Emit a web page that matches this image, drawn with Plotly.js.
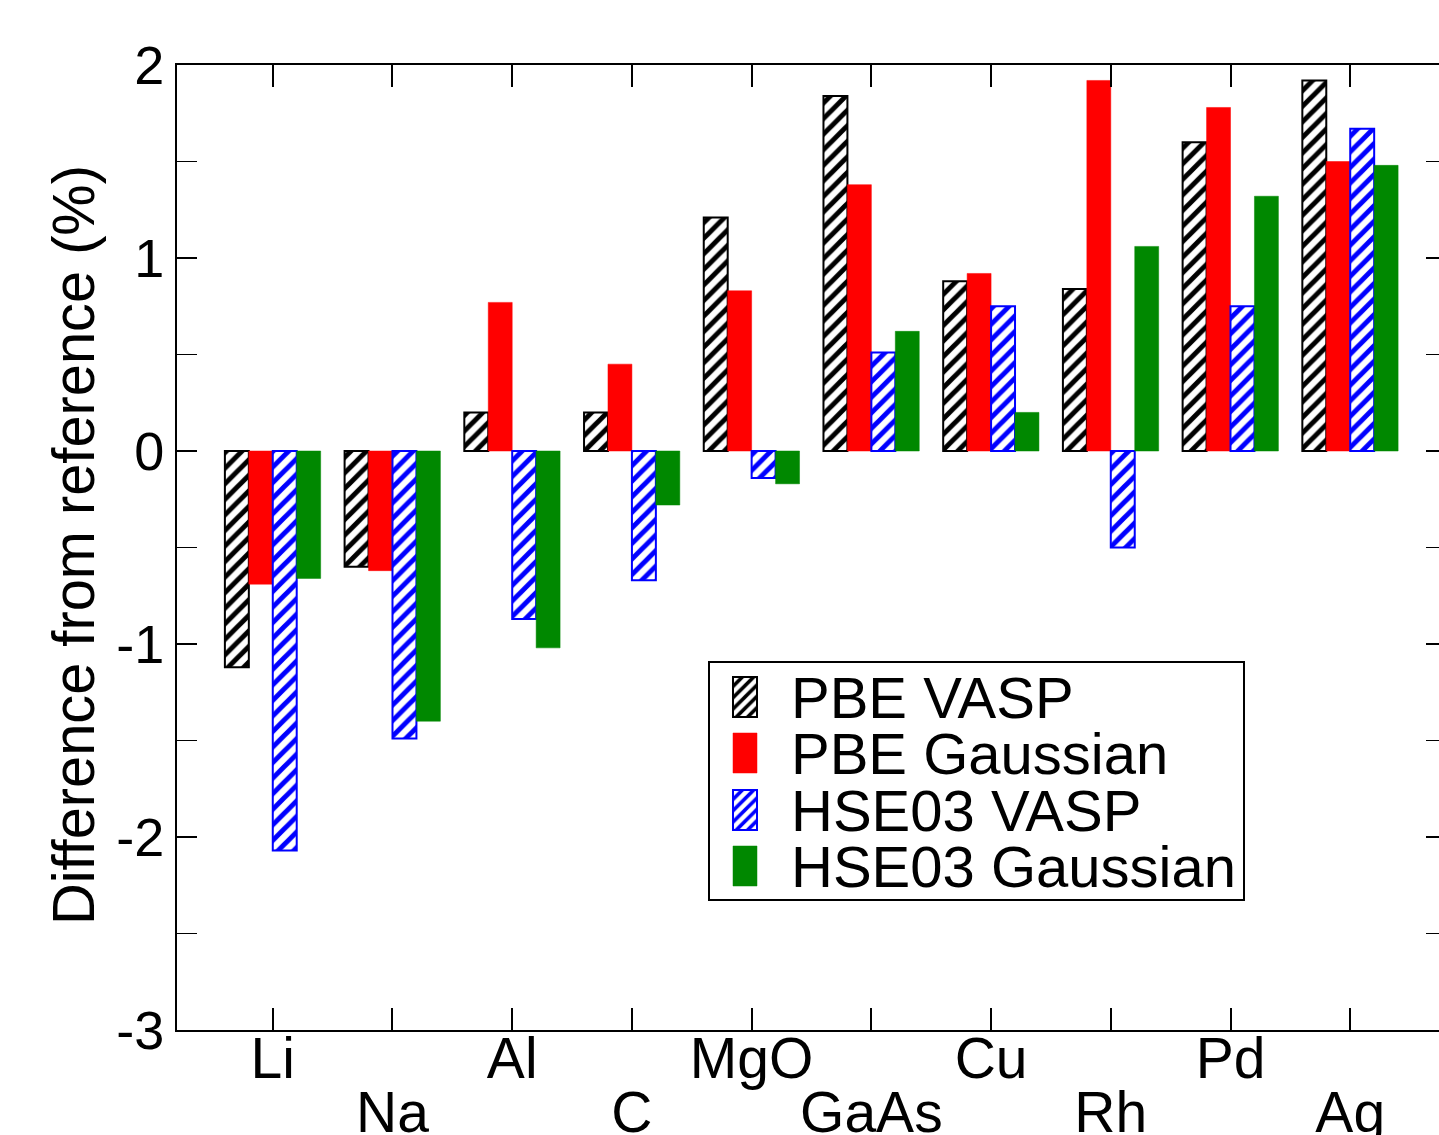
<!DOCTYPE html>
<html>
<head>
<meta charset="utf-8">
<script src="https://cdn.plot.ly/plotly-3.0.1.min.js"></script>
<style>
html,body{margin:0;padding:0;overflow:hidden;background:#fff;}
#chart{width:1450px;height:1135px;}
</style>
</head>
<body>
<div id="chart"></div>
<script>
const categories = ['Li','Na','Al','C','MgO','GaAs','Cu','Rh','Pd','Ag'];
const pbeVasp     = [-1.12,-0.60, 0.20, 0.20, 1.21, 1.84, 0.88, 0.84, 1.60, 1.92];
const pbeGaussian = [-0.69,-0.62, 0.77, 0.45, 0.83, 1.38, 0.92, 1.92, 1.78, 1.50];
const hseVasp     = [-2.07,-1.49,-0.87,-0.67,-0.14, 0.51, 0.75,-0.50, 0.75, 1.67];
const hseGaussian = [-0.66,-1.40,-1.02,-0.28,-0.17, 0.62, 0.20, 1.06, 1.32, 1.48];
const seriesNames = ['PBE VASP','PBE Gaussian','HSE03 VASP','HSE03 Gaussian'];
const yTickVals = [-3,-2,-1,0,1,2];
const yTickText = ['-3','-2','-1','0','1','2'];

const rowOne = categories.map((c,i)=> i%2===0 ? c : '');
const rowTwo = categories.map((c,i)=> i%2===1 ? c : '');

const font = 'Liberation Sans, Arial, Helvetica, sans-serif';

const traces = [
  {type:'bar', name:seriesNames[0], x:categories, y:pbeVasp,
   marker:{color:'white', line:{color:'black', width:2},
     pattern:{shape:'/', fgcolor:'black', bgcolor:'white', size:11, solidity:0.45}}},
  {type:'bar', name:seriesNames[1], x:categories, y:pbeGaussian,
   marker:{color:'#ff0000', line:{color:'#ff0000', width:0.5}}},
  {type:'bar', name:seriesNames[2], x:categories, y:hseVasp,
   marker:{color:'white', line:{color:'#0000ff', width:2},
     pattern:{shape:'/', fgcolor:'#0000ff', bgcolor:'white', size:11, solidity:0.45}}},
  {type:'bar', name:seriesNames[3], x:categories, y:hseGaussian,
   marker:{color:'#008800', line:{color:'#008800', width:0.5}}},
  {type:'scatter', x:[], y:[], xaxis:'x2', showlegend:false, hoverinfo:'skip'}
];

const layout = {
  width:1450, height:1135,
  margin:{l:177, r:4, t:65, b:105},
  paper_bgcolor:'white', plot_bgcolor:'white',
  font:{family:font, color:'black', size:54},
  barmode:'group', bargap:0.2, bargroupgap:0,
  showlegend:true,
  legend:{x:0.419, y:0.381, xanchor:'left', yanchor:'top',
    bgcolor:'white', bordercolor:'black', borderwidth:2,
    font:{family:font, size:58, color:'black'}},
  xaxis:{type:'category', categoryarray:categories, range:[-0.8, 9.8],
    tickvals:categories, ticktext:rowOne, ticklabelstandoff:-22,
    ticks:'inside', ticklen:22, tickwidth:2, tickcolor:'black',
    showline:true, linecolor:'black', linewidth:2, mirror:'allticks',
    showgrid:false, zeroline:false, fixedrange:true,
    tickfont:{family:font, size:57}},
  xaxis2:{type:'category', categoryarray:categories, range:[-0.8, 9.8],
    overlaying:'x', side:'bottom', anchor:'y',
    tickvals:categories, ticktext:rowTwo, ticks:'', ticklabelstandoff:44,
    showline:false, showgrid:false, zeroline:false,
    tickfont:{family:font, size:57}},
  yaxis:{range:[-3,2], tickvals:yTickVals, ticktext:yTickText,
    ticks:'inside', ticklen:20, tickwidth:2, tickcolor:'black',
    minor:{dtick:0.5, ticks:'inside', ticklen:11, tickwidth:1.5, tickcolor:'black'},
    showline:true, linecolor:'black', linewidth:2, mirror:'allticks',
    showgrid:false, zeroline:false,
    tickfont:{family:font, size:54},
    title:{text:'Difference from reference (%)',
      font:{family:font, size:58}}}
};

Plotly.newPlot('chart', traces, layout, {staticPlot:true, displayModeBar:false}).then(gd => {
  // y-axis title: condensed like the reference
  const yt = gd.querySelector('text.ytitle');
  if (yt) {
    yt.setAttribute('x', 91); yt.setAttribute('y', 545);
    yt.setAttribute('transform', 'rotate(-90,91,545)');
    yt.setAttribute('textLength', 760);
    yt.setAttribute('lengthAdjust', 'spacingAndGlyphs');
    yt.style.fontSize = '59px';
  }
  // legend: larger swatches and tighter rows, as in the reference
  const leg = gd.querySelector('g.legend');
  if (leg) {
    const m = /translate\(([-\d.e]+)[ ,]+([-\d.e]+)\)/.exec(leg.getAttribute('transform'));
    const lx = +m[1], ly = +m[2];
    const box = {x0:709, y0:662, x1:1244, y1:900};
    const bg = leg.querySelector('rect.bg');
    bg.setAttribute('x', box.x0 - lx); bg.setAttribute('y', box.y0 - ly);
    bg.setAttribute('width', box.x1 - box.x0); bg.setAttribute('height', box.y1 - box.y0);
    leg.querySelectorAll('[clip-path]').forEach(e => e.removeAttribute('clip-path'));
    const rows = [697, 753, 810, 866];
    leg.querySelectorAll('g.traces').forEach((g, i) => {
      g.setAttribute('transform', `translate(0,${rows[i] - ly})`);
      const t = g.querySelector('text.legendtext');
      t.setAttribute('x', 791 - lx); t.setAttribute('y', 21); t.removeAttribute('dy');
      t.querySelectorAll('tspan').forEach(s => { if (s.hasAttribute('x')) s.setAttribute('x', 791 - lx); });
      g.querySelectorAll('.legendpoints path').forEach(p => {
        p.setAttribute('d', 'M-12,-20h24v40h-24Z');
        p.setAttribute('transform', `translate(${745 - lx},0)`);
      });
    });
  }
});
</script>
</body>
</html>
